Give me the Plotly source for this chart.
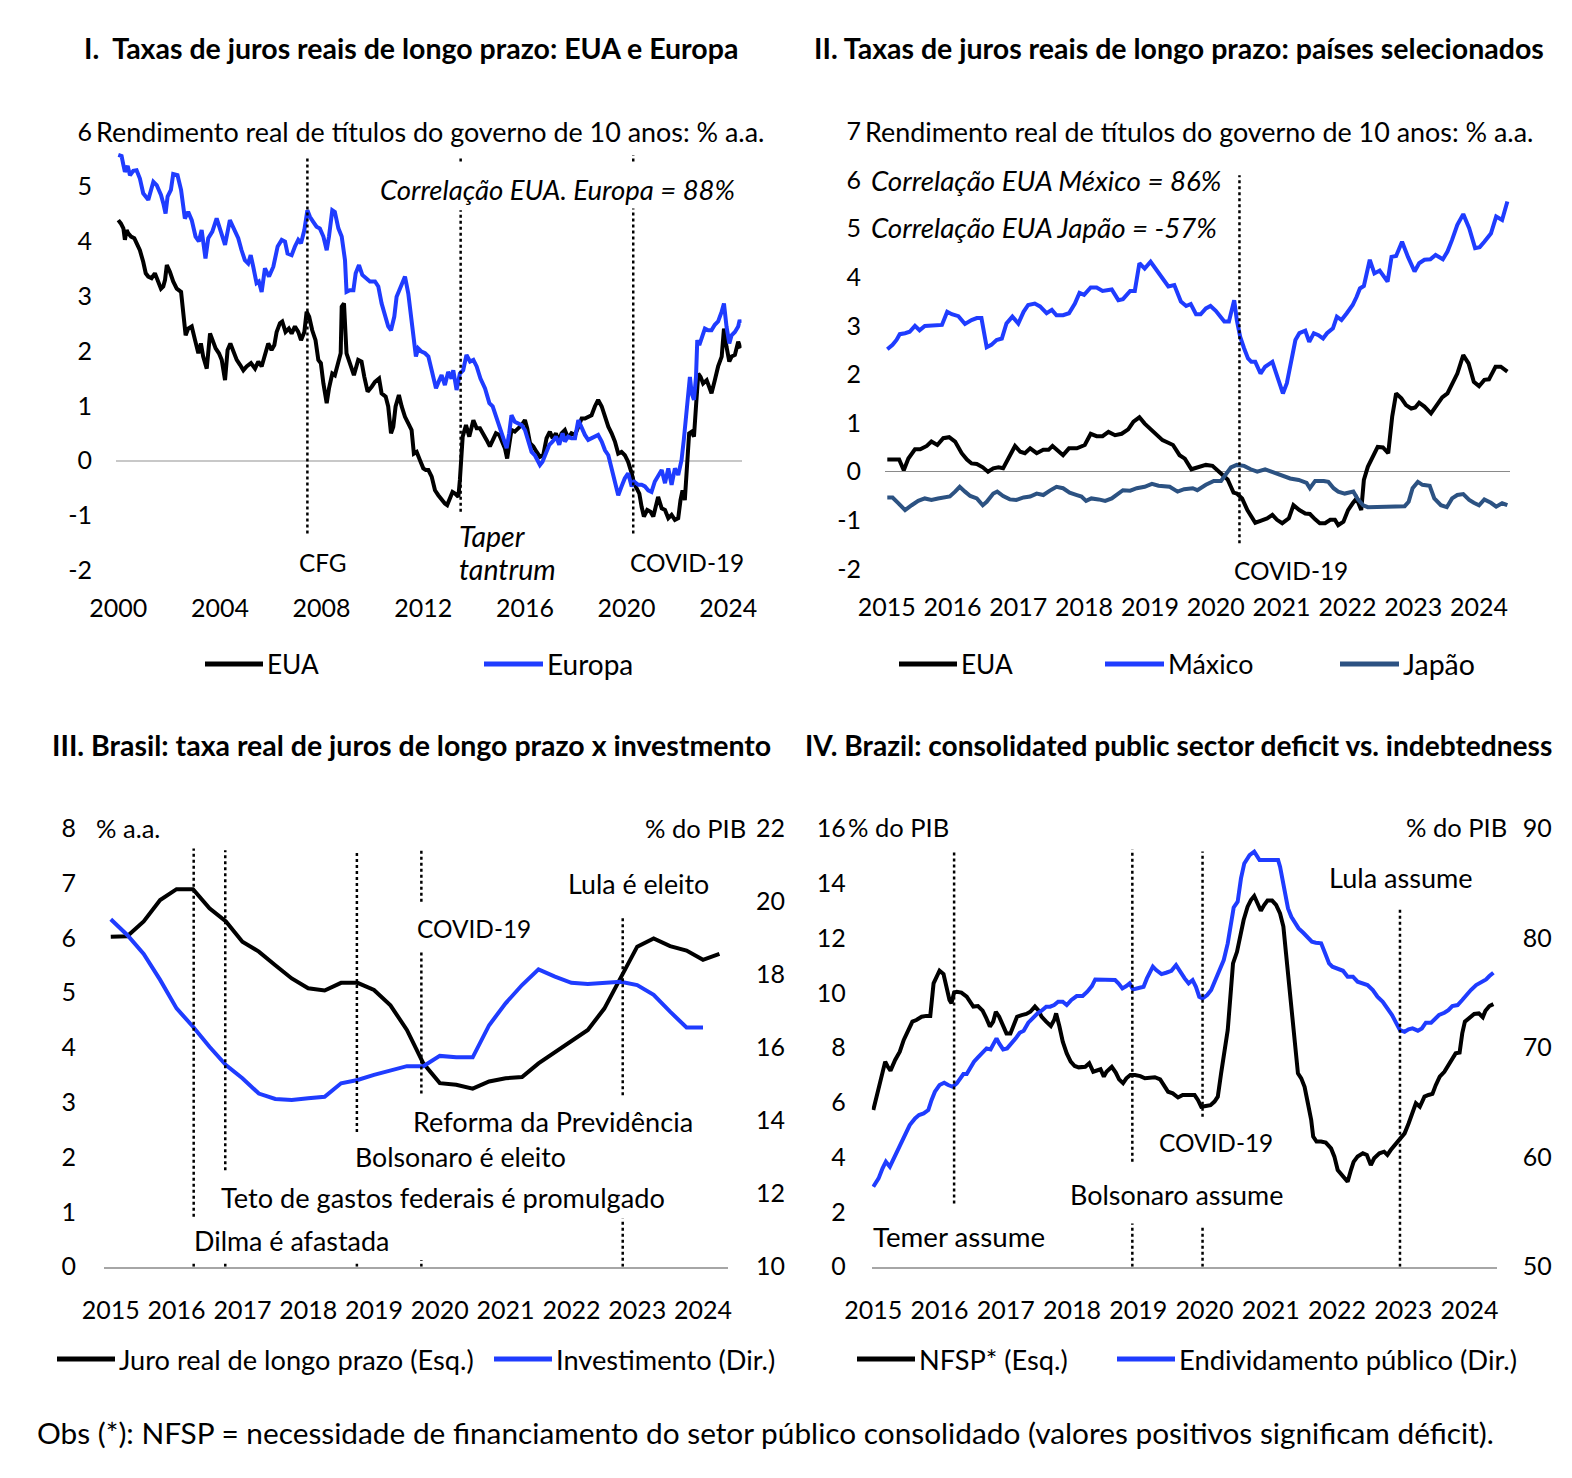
import plotly.graph_objects as go

W, H = 1572, 1478
OFF = 8  # page body margin in the browser
FONT = "Lato"
BLACK = "#000000"
BLUE = "#1f3cff"
JAPAN = "#2c5282"

def px(x):
    return (x - OFF) / W

def py(y):
    return 1 - (y - OFF) / H

# ---------------- Panel I: EUA x Europa (2000-2024) ----------------
eua1_x = [2000.00, 2000.10, 2000.20, 2000.26, 2000.33, 2000.39, 2000.50, 2000.63, 2000.72, 2000.85,
          2000.98, 2001.08, 2001.18, 2001.31, 2001.44, 2001.55, 2001.68, 2001.77, 2001.84, 2001.91,
          2002.03, 2002.16, 2002.30, 2002.47, 2002.56, 2002.65, 2002.75, 2002.89, 2003.02, 2003.15,
          2003.25, 2003.34, 2003.48, 2003.61, 2003.71, 2003.83, 2003.96, 2004.07, 2004.20, 2004.30,
          2004.41, 2004.54, 2004.66, 2004.79, 2004.92, 2005.05, 2005.22, 2005.38, 2005.51, 2005.64,
          2005.77, 2005.90, 2006.03, 2006.14, 2006.23, 2006.36, 2006.45, 2006.58, 2006.71, 2006.82,
          2006.95, 2007.08, 2007.19, 2007.32, 2007.41, 2007.51, 2007.63, 2007.76, 2007.87, 2007.97,
          2008.07, 2008.20, 2008.29, 2008.42, 2008.52, 2008.66, 2008.75, 2008.79, 2008.88, 2008.98,
          2009.11, 2009.27, 2009.44, 2009.57, 2009.68, 2009.81, 2009.97, 2010.10, 2010.26, 2010.36,
          2010.52, 2010.62, 2010.73, 2010.82, 2010.91, 2011.04, 2011.15, 2011.28, 2011.41, 2011.54,
          2011.63, 2011.74, 2011.87, 2012.00, 2012.10, 2012.20, 2012.33, 2012.46, 2012.59, 2012.72,
          2012.85, 2012.94, 2013.05, 2013.15, 2013.25, 2013.38, 2013.44, 2013.55, 2013.68, 2013.81,
          2013.97, 2014.10, 2014.23, 2014.36, 2014.49, 2014.62, 2014.73, 2014.86, 2014.99, 2015.12,
          2015.21, 2015.30, 2015.38, 2015.47, 2015.60, 2015.74, 2015.87, 2016.00, 2016.09, 2016.20,
          2016.33, 2016.46, 2016.59, 2016.72, 2016.85, 2016.98, 2017.09, 2017.22, 2017.32, 2017.44,
          2017.57, 2017.70, 2017.83, 2017.97, 2018.10, 2018.23, 2018.36, 2018.49, 2018.62, 2018.75,
          2018.88, 2019.02, 2019.15, 2019.28, 2019.41, 2019.54, 2019.67, 2019.80, 2019.93, 2020.06,
          2020.20, 2020.29, 2020.39, 2020.50, 2020.59, 2020.68, 2020.81, 2020.94, 2021.05, 2021.15,
          2021.24, 2021.38, 2021.51, 2021.64, 2021.77, 2021.90, 2022.03, 2022.12, 2022.20, 2022.29,
          2022.38, 2022.46, 2022.56, 2022.65, 2022.73, 2022.82, 2022.91, 2023.01, 2023.15, 2023.25,
          2023.34, 2023.47, 2023.60, 2023.74, 2023.83, 2023.93, 2024.04, 2024.13, 2024.26, 2024.39,
          2024.49]
eua1_y = [4.39, 4.33, 4.24, 4.03, 4.21, 4.15, 4.09, 4.06, 3.97, 3.84,
          3.63, 3.42, 3.36, 3.33, 3.42, 3.30, 3.14, 3.18, 3.30, 3.57,
          3.45, 3.27, 3.14, 3.08, 2.69, 2.29, 2.41, 2.45, 2.20, 1.96,
          2.14, 1.90, 1.68, 2.32, 2.20, 2.05, 1.96, 1.84, 1.47, 2.02,
          2.14, 1.96, 1.84, 1.75, 1.65, 1.72, 1.78, 1.68, 1.81, 1.72,
          1.93, 2.14, 2.02, 2.11, 2.35, 2.51, 2.54, 2.35, 2.41, 2.32,
          2.45, 2.35, 2.20, 2.35, 2.72, 2.63, 2.38, 2.20, 1.84, 1.78,
          1.41, 1.05, 1.32, 1.59, 1.56, 1.78, 1.96, 2.81, 2.87, 1.96,
          1.78, 1.56, 1.84, 1.81, 1.53, 1.26, 1.35, 1.44, 1.50, 1.23,
          1.17, 0.99, 0.50, 0.62, 0.99, 1.20, 0.99, 0.80, 0.68, 0.56,
          0.13, 0.16, 0.01, -0.14, -0.17, -0.17, -0.29, -0.54, -0.63, -0.72,
          -0.78, -0.81, -0.69, -0.57, -0.60, -0.66, -0.35, 0.44, 0.65, 0.44,
          0.74, 0.59, 0.59, 0.50, 0.38, 0.26, 0.38, 0.50, 0.47, 0.35,
          0.23, 0.04, 0.26, 0.56, 0.53, 0.59, 0.65, 0.74, 0.59, 0.32,
          0.26, 0.16, 0.07, 0.10, 0.41, 0.53, 0.41, 0.50, 0.35, 0.50,
          0.56, 0.41, 0.50, 0.47, 0.62, 0.77, 0.77, 0.80, 0.83, 0.99,
          1.11, 0.99, 0.80, 0.62, 0.50, 0.35, 0.13, 0.16, 0.10, -0.02,
          -0.23, -0.41, -0.50, -0.60, -0.84, -1.02, -0.90, -0.93, -1.02, -0.84,
          -0.66, -0.87, -0.90, -1.05, -0.99, -1.08, -1.05, -0.72, -0.54, -0.72,
          -0.17, 0.50, 0.53, 0.44, 0.99, 1.59, 1.53, 1.41, 1.47, 1.35,
          1.23, 1.47, 1.72, 1.90, 2.41, 2.08, 1.81, 1.90, 1.93, 2.17,
          2.05]

europa1_x = [2000.00, 2000.13, 2000.20, 2000.26, 2000.37, 2000.46, 2000.59, 2000.72, 2000.85, 2000.98,
             2001.18, 2001.38, 2001.51, 2001.68, 2001.77, 2001.86, 2001.94, 2002.07, 2002.16, 2002.33,
             2002.47, 2002.62, 2002.75, 2002.89, 2003.04, 2003.17, 2003.28, 2003.43, 2003.54, 2003.70,
             2003.87, 2004.00, 2004.20, 2004.39, 2004.59, 2004.72, 2004.85, 2004.98, 2005.11, 2005.21,
             2005.31, 2005.44, 2005.53, 2005.64, 2005.77, 2005.93, 2006.10, 2006.27, 2006.43, 2006.56,
             2006.66, 2006.82, 2006.95, 2007.08, 2007.19, 2007.32, 2007.44, 2007.54, 2007.67, 2007.80,
             2007.93, 2008.07, 2008.20, 2008.29, 2008.42, 2008.52, 2008.66, 2008.79, 2008.92, 2008.98,
             2009.11, 2009.25, 2009.34, 2009.47, 2009.60, 2009.77, 2009.90, 2010.10, 2010.23, 2010.36,
             2010.49, 2010.62, 2010.73, 2010.86, 2010.95, 2011.12, 2011.28, 2011.41, 2011.52, 2011.61,
             2011.71, 2011.80, 2011.93, 2012.07, 2012.20, 2012.33, 2012.50, 2012.63, 2012.72, 2012.85,
             2012.98, 2013.11, 2013.18, 2013.31, 2013.44, 2013.57, 2013.70, 2013.84, 2013.97, 2014.10,
             2014.25, 2014.43, 2014.60, 2014.73, 2014.86, 2014.99, 2015.12, 2015.28, 2015.38, 2015.47,
             2015.60, 2015.74, 2015.87, 2016.00, 2016.13, 2016.26, 2016.39, 2016.48, 2016.59, 2016.69,
             2016.82, 2016.96, 2017.09, 2017.22, 2017.35, 2017.48, 2017.57, 2017.70, 2017.83, 2017.97,
             2018.10, 2018.23, 2018.36, 2018.49, 2018.62, 2018.75, 2018.88, 2019.02, 2019.15, 2019.28,
             2019.41, 2019.54, 2019.67, 2019.80, 2019.93, 2020.06, 2020.20, 2020.29, 2020.46, 2020.59,
             2020.72, 2020.85, 2020.98, 2021.11, 2021.24, 2021.38, 2021.51, 2021.64, 2021.77, 2021.90,
             2022.03, 2022.16, 2022.25, 2022.33, 2022.42, 2022.49, 2022.56, 2022.65, 2022.73, 2022.78,
             2022.86, 2022.95, 2023.08, 2023.21, 2023.34, 2023.47, 2023.60, 2023.74, 2023.83, 2023.93,
             2024.04, 2024.13, 2024.26, 2024.39, 2024.45, 2024.49]
europa1_y = [5.58, 5.56, 5.40, 5.27, 5.38, 5.21, 5.29, 5.30, 5.15, 4.88,
             4.76, 5.09, 5.03, 4.85, 4.70, 4.51, 4.82, 4.94, 5.23, 5.21,
             4.94, 4.42, 4.54, 4.39, 4.09, 4.00, 4.21, 3.69, 4.06, 4.18,
             4.42, 4.24, 3.94, 4.39, 4.21, 4.06, 3.84, 3.66, 3.60, 3.75,
             3.54, 3.24, 3.27, 3.08, 3.51, 3.36, 3.54, 3.91, 4.03, 4.00,
             3.78, 3.75, 3.91, 4.03, 3.97, 4.21, 4.57, 4.45, 4.36, 4.27,
             4.24, 4.09, 3.84, 4.09, 4.57, 4.54, 4.24, 4.09, 3.66, 3.08,
             3.11, 3.11, 3.42, 3.57, 3.39, 3.33, 3.27, 3.27, 3.18, 2.87,
             2.63, 2.45, 2.38, 2.63, 2.99, 3.18, 3.36, 3.05, 2.65, 2.20,
             1.90, 2.05, 1.99, 1.96, 1.90, 1.65, 1.32, 1.47, 1.56, 1.38,
             1.62, 1.50, 1.65, 1.29, 1.59, 1.65, 1.93, 1.81, 1.84, 1.72,
             1.50, 1.32, 1.05, 0.99, 0.80, 0.62, 0.41, 0.23, 0.50, 0.83,
             0.71, 0.68, 0.65, 0.56, 0.35, 0.16, 0.10, 0.01, -0.08, -0.02,
             0.13, 0.29, 0.35, 0.44, 0.29, 0.50, 0.35, 0.44, 0.41, 0.41,
             0.74, 0.59, 0.47, 0.38, 0.41, 0.44, 0.47, 0.35, 0.19, 0.10,
             -0.14, -0.41, -0.63, -0.47, -0.32, -0.23, -0.47, -0.38, -0.44, -0.44,
             -0.47, -0.54, -0.57, -0.38, -0.29, -0.17, -0.41, -0.14, -0.44, -0.14,
             -0.26, 0.01, 0.38, 0.80, 1.11, 1.53, 1.23, 1.11, 1.53, 2.20,
             2.11, 2.23, 2.41, 2.38, 2.38, 2.48, 2.54, 2.72, 2.87, 2.45,
             2.14, 2.29, 2.35, 2.45, 2.57, 2.51]

# ---------------- Panel II: EUA, México, Japão (2015-2024) ----------------
eua2_x = [2015.01, 2015.10, 2015.19, 2015.26, 2015.33, 2015.43, 2015.51, 2015.61, 2015.68, 2015.77,
          2015.86, 2015.95, 2016.04, 2016.14, 2016.22, 2016.29, 2016.37, 2016.46, 2016.54, 2016.62,
          2016.70, 2016.77, 2016.85, 2016.95, 2017.03, 2017.10, 2017.18, 2017.28, 2017.38, 2017.46,
          2017.52, 2017.61, 2017.68, 2017.77, 2017.89, 2018.01, 2018.10, 2018.19, 2018.28, 2018.37,
          2018.47, 2018.57, 2018.67, 2018.75, 2018.84, 2018.92, 2019.01, 2019.10, 2019.19, 2019.27,
          2019.35, 2019.45, 2019.53, 2019.63, 2019.72, 2019.85, 2019.95, 2020.03, 2020.10, 2020.18,
          2020.23, 2020.27, 2020.32, 2020.40, 2020.48, 2020.54, 2020.60, 2020.68, 2020.78, 2020.86,
          2020.93, 2021.01, 2021.11, 2021.18, 2021.27, 2021.36, 2021.43, 2021.51, 2021.58, 2021.66,
          2021.74, 2021.81, 2021.86, 2021.94, 2022.01, 2022.08, 2022.14, 2022.21, 2022.25, 2022.31,
          2022.39, 2022.46, 2022.54, 2022.62, 2022.68, 2022.74, 2022.82, 2022.89, 2022.97, 2023.03,
          2023.09, 2023.17, 2023.27, 2023.35, 2023.44, 2023.52, 2023.60, 2023.67, 2023.76, 2023.84,
          2023.92, 2024.00, 2024.08, 2024.15, 2024.25, 2024.33, 2024.43]
eua2_y = [0.25, 0.25, 0.25, 0.03, 0.27, 0.46, 0.46, 0.53, 0.62, 0.55,
          0.69, 0.71, 0.62, 0.38, 0.25, 0.17, 0.16, 0.09, 0.00, 0.07,
          0.09, 0.07, 0.29, 0.53, 0.41, 0.38, 0.48, 0.38, 0.45, 0.45,
          0.53, 0.41, 0.34, 0.48, 0.48, 0.55, 0.78, 0.73, 0.73, 0.82,
          0.75, 0.78, 0.87, 1.03, 1.12, 0.99, 0.87, 0.75, 0.65, 0.60,
          0.55, 0.34, 0.27, 0.05, 0.09, 0.14, 0.12, 0.03, -0.07, -0.16,
          -0.31, -0.43, -0.45, -0.55, -0.79, -0.93, -1.05, -1.01, -0.96, -0.89,
          -0.99, -1.06, -0.96, -0.69, -0.79, -0.86, -0.87, -0.98, -1.06, -1.06,
          -0.99, -0.99, -1.10, -1.03, -0.79, -0.65, -0.55, -0.79, -0.17, 0.10,
          0.34, 0.51, 0.50, 0.38, 1.13, 1.61, 1.51, 1.37, 1.30, 1.32,
          1.42, 1.34, 1.20, 1.37, 1.53, 1.61, 1.82, 2.02, 2.40, 2.23,
          1.85, 1.76, 1.89, 1.90, 2.16, 2.16, 2.06]

mexico2_x = [2015.01, 2015.09, 2015.15, 2015.20, 2015.28, 2015.35, 2015.43, 2015.50, 2015.58, 2015.68,
             2015.76, 2015.84, 2015.92, 2015.99, 2016.09, 2016.19, 2016.29, 2016.37, 2016.44, 2016.52,
             2016.59, 2016.67, 2016.75, 2016.82, 2016.91, 2017.00, 2017.08, 2017.15, 2017.25, 2017.33,
             2017.43, 2017.51, 2017.58, 2017.68, 2017.77, 2017.86, 2017.93, 2018.00, 2018.10, 2018.19,
             2018.28, 2018.42, 2018.52, 2018.59, 2018.70, 2018.77, 2018.84, 2018.92, 2019.01, 2019.10,
             2019.19, 2019.28, 2019.37, 2019.42, 2019.47, 2019.55, 2019.62, 2019.70, 2019.77, 2019.85,
             2019.92, 2020.00, 2020.08, 2020.13, 2020.20, 2020.28, 2020.32, 2020.37, 2020.43, 2020.49,
             2020.54, 2020.60, 2020.68, 2020.75, 2020.86, 2020.93, 2021.02, 2021.08, 2021.16, 2021.21,
             2021.27, 2021.36, 2021.42, 2021.49, 2021.56, 2021.63, 2021.69, 2021.78, 2021.84, 2021.91,
             2021.99, 2022.08, 2022.14, 2022.19, 2022.25, 2022.34, 2022.41, 2022.49, 2022.61, 2022.67,
             2022.74, 2022.83, 2022.92, 2023.02, 2023.09, 2023.17, 2023.26, 2023.34, 2023.45, 2023.52,
             2023.59, 2023.67, 2023.76, 2023.85, 2023.94, 2024.01, 2024.08, 2024.18, 2024.26, 2024.35,
             2024.43]
mexico2_y = [2.52, 2.61, 2.71, 2.83, 2.85, 2.88, 3.00, 2.91, 3.00, 3.00,
             3.00, 3.02, 3.29, 3.24, 3.20, 3.04, 3.12, 3.16, 3.16, 2.56,
             2.61, 2.71, 2.74, 3.05, 3.19, 3.05, 3.29, 3.43, 3.46, 3.40,
             3.26, 3.33, 3.22, 3.22, 3.26, 3.46, 3.68, 3.64, 3.79, 3.79,
             3.72, 3.75, 3.53, 3.55, 3.72, 3.72, 4.29, 4.18, 4.32, 4.15,
             4.01, 3.81, 3.84, 3.64, 3.50, 3.41, 3.45, 3.24, 3.24, 3.36,
             3.41, 3.31, 3.19, 3.09, 3.09, 3.53, 3.12, 2.78, 2.54, 2.33,
             2.26, 2.26, 2.02, 2.16, 2.26, 1.95, 1.61, 1.82, 2.43, 2.71,
             2.85, 2.90, 2.67, 2.85, 2.81, 2.74, 2.85, 2.95, 3.19, 3.12,
             3.26, 3.43, 3.60, 3.77, 3.82, 4.36, 4.08, 4.14, 3.91, 4.42,
             4.44, 4.73, 4.42, 4.12, 4.29, 4.36, 4.37, 4.46, 4.37, 4.53,
             4.77, 5.08, 5.30, 5.01, 4.60, 4.62, 4.73, 4.90, 5.25, 5.18,
             5.56]

japao2_x = [2015.01, 2015.09, 2015.18, 2015.28, 2015.38, 2015.48, 2015.58, 2015.68, 2015.78, 2015.89,
            2015.96, 2016.04, 2016.11, 2016.19, 2016.27, 2016.37, 2016.46, 2016.52, 2016.62, 2016.68,
            2016.77, 2016.87, 2016.97, 2017.08, 2017.18, 2017.28, 2017.38, 2017.48, 2017.58, 2017.68,
            2017.78, 2017.89, 2017.96, 2018.03, 2018.11, 2018.22, 2018.32, 2018.42, 2018.50, 2018.59,
            2018.70, 2018.80, 2018.92, 2019.03, 2019.13, 2019.30, 2019.42, 2019.52, 2019.65, 2019.72,
            2019.85, 2019.97, 2020.08, 2020.15, 2020.23, 2020.32, 2020.43, 2020.53, 2020.63, 2020.75,
            2020.88, 2021.01, 2021.13, 2021.26, 2021.38, 2021.43, 2021.51, 2021.64, 2021.71, 2021.79,
            2021.86, 2021.96, 2022.09, 2022.16, 2022.24, 2022.31, 2022.42, 2022.51, 2022.64, 2022.77,
            2022.87, 2022.93, 2022.99, 2023.07, 2023.14, 2023.25, 2023.32, 2023.42, 2023.51, 2023.59,
            2023.67, 2023.76, 2023.85, 2023.92, 2024.00, 2024.08, 2024.18, 2024.26, 2024.35, 2024.43]
japao2_y = [-0.53, -0.53, -0.65, -0.79, -0.69, -0.60, -0.55, -0.58, -0.55, -0.53,
            -0.51, -0.41, -0.31, -0.41, -0.50, -0.55, -0.69, -0.62, -0.45, -0.41,
            -0.50, -0.57, -0.58, -0.53, -0.51, -0.45, -0.48, -0.39, -0.31, -0.34,
            -0.43, -0.48, -0.51, -0.60, -0.55, -0.57, -0.60, -0.55, -0.48, -0.38,
            -0.39, -0.34, -0.31, -0.25, -0.29, -0.31, -0.41, -0.36, -0.34, -0.38,
            -0.27, -0.19, -0.19, -0.07, 0.09, 0.14, 0.12, 0.05, 0.00, 0.05,
            -0.02, -0.09, -0.14, -0.17, -0.23, -0.34, -0.19, -0.19, -0.21, -0.34,
            -0.41, -0.45, -0.41, -0.57, -0.69, -0.73, -0.73, -0.71, -0.73, -0.73,
            -0.71, -0.62, -0.34, -0.21, -0.27, -0.29, -0.55, -0.69, -0.73, -0.55,
            -0.48, -0.46, -0.58, -0.64, -0.69, -0.57, -0.64, -0.72, -0.65, -0.69]

# ---------------- Panel III: Brasil juro real x investimento (quarterly) ----------------
juro3 = [6.02, 6.03, 6.30, 6.69, 6.89, 6.89, 6.54, 6.30, 5.93, 5.75,
         5.50, 5.26, 5.08, 5.04, 5.18, 5.18, 5.05, 4.77, 4.32, 3.71,
         3.35, 3.32, 3.25, 3.38, 3.44, 3.46, 3.71, 3.92, 4.11, 4.32,
         4.71, 5.26, 5.84, 5.99, 5.85, 5.77, 5.60, 5.71]
invest3 = [19.51, 19.08, 18.56, 17.85, 17.07, 16.57, 16.02, 15.52, 15.16, 14.74,
           14.59, 14.56, 14.61, 14.65, 15.02, 15.11, 15.25, 15.38, 15.49, 15.49,
           15.77, 15.73, 15.73, 16.61, 17.21, 17.71, 18.14, 17.94, 17.77, 17.74,
           17.77, 17.80, 17.71, 17.44, 16.98, 16.55, 16.55]
juro3_x = [2015 + 0.25 * i for i in range(len(juro3))]
invest3_x = [2015 + 0.25 * i for i in range(len(invest3))]

# ---------------- Panel IV: NFSP x endividamento ----------------
nfsp4_x = [2015.00, 2015.08, 2015.13, 2015.18, 2015.22, 2015.26, 2015.33, 2015.40, 2015.46, 2015.53,
           2015.59, 2015.65, 2015.73, 2015.80, 2015.86, 2015.91, 2015.96, 2016.00, 2016.06, 2016.11,
           2016.15, 2016.18, 2016.22, 2016.26, 2016.33, 2016.41, 2016.46, 2016.51, 2016.58, 2016.65,
           2016.70, 2016.76, 2016.81, 2016.85, 2016.90, 2016.96, 2017.01, 2017.07, 2017.12, 2017.17,
           2017.24, 2017.31, 2017.37, 2017.44, 2017.49, 2017.54, 2017.61, 2017.68, 2017.73, 2017.76,
           2017.81, 2017.86, 2017.92, 2017.98, 2018.04, 2018.10, 2018.20, 2018.26, 2018.32, 2018.39,
           2018.43, 2018.48, 2018.52, 2018.60, 2018.66, 2018.71, 2018.77, 2018.82, 2018.88, 2018.95,
           2019.03, 2019.10, 2019.18, 2019.25, 2019.33, 2019.40, 2019.45, 2019.52, 2019.60, 2019.67,
           2019.77, 2019.85, 2019.90, 2019.95, 2020.02, 2020.09, 2020.15, 2020.20, 2020.25, 2020.30,
           2020.35, 2020.39, 2020.43, 2020.49, 2020.54, 2020.59, 2020.65, 2020.70, 2020.75, 2020.80,
           2020.85, 2020.90, 2020.95, 2021.02, 2021.08, 2021.14, 2021.19, 2021.23, 2021.28, 2021.33,
           2021.37, 2021.41, 2021.46, 2021.51, 2021.56, 2021.61, 2021.64, 2021.69, 2021.76, 2021.83,
           2021.91, 2021.96, 2022.01, 2022.08, 2022.16, 2022.21, 2022.25, 2022.31, 2022.39, 2022.45,
           2022.51, 2022.56, 2022.64, 2022.71, 2022.76, 2022.81, 2022.89, 2022.95, 2023.02, 2023.08,
           2023.14, 2023.19, 2023.25, 2023.32, 2023.38, 2023.44, 2023.49, 2023.55, 2023.62, 2023.68,
           2023.74, 2023.79, 2023.85, 2023.89, 2023.93, 2023.99, 2024.07, 2024.14, 2024.20, 2024.24,
           2024.30, 2024.36]
nfsp4_y = [5.72, 6.45, 7.00, 7.49, 7.30, 7.16, 7.55, 7.85, 8.28, 8.64,
           8.95, 9.01, 9.13, 9.16, 9.16, 10.35, 10.59, 10.81, 10.69, 10.23,
           9.74, 9.62, 10.01, 10.04, 10.01, 9.86, 9.68, 9.50, 9.52, 9.35,
           9.11, 8.77, 8.95, 9.31, 9.13, 8.83, 8.52, 8.52, 8.83, 9.13,
           9.19, 9.23, 9.31, 9.50, 9.37, 9.13, 8.95, 8.79, 9.01, 9.25,
           8.77, 8.22, 7.79, 7.49, 7.33, 7.28, 7.30, 7.43, 7.12, 7.18,
           7.21, 6.94, 7.12, 7.30, 7.09, 6.84, 6.70, 6.88, 7.00, 7.00,
           6.96, 6.88, 6.92, 6.92, 6.84, 6.57, 6.39, 6.33, 6.18, 6.27,
           6.27, 6.27, 6.09, 5.84, 5.87, 5.90, 6.03, 6.21, 7.06, 7.79,
           8.64, 9.86, 11.08, 11.50, 12.11, 12.66, 13.15, 13.39, 13.54, 13.27,
           13.00, 13.21, 13.37, 13.37, 13.21, 12.90, 12.42, 11.44, 10.23, 9.25,
           8.28, 7.06, 6.88, 6.57, 5.97, 5.36, 4.75, 4.57, 4.57, 4.53,
           4.32, 4.02, 3.53, 3.35, 3.10, 3.53, 3.83, 4.02, 4.14, 4.08,
           3.71, 3.96, 4.14, 4.20, 4.08, 4.26, 4.50, 4.65, 4.87, 5.23,
           5.60, 5.97, 5.84, 6.21, 6.27, 6.31, 6.63, 6.94, 7.12, 7.37,
           7.57, 7.79, 7.82, 8.52, 8.95, 9.07, 9.23, 9.25, 9.11, 9.35,
           9.52, 9.59]

divida4_x = [2015.00, 2015.08, 2015.14, 2015.19, 2015.25, 2015.31, 2015.38, 2015.43, 2015.49, 2015.55,
             2015.63, 2015.69, 2015.76, 2015.83, 2015.88, 2015.93, 2016.00, 2016.07, 2016.13, 2016.20,
             2016.26, 2016.31, 2016.36, 2016.41, 2016.46, 2016.52, 2016.58, 2016.66, 2016.71, 2016.77,
             2016.82, 2016.86, 2016.90, 2016.96, 2017.02, 2017.09, 2017.15, 2017.21, 2017.27, 2017.34,
             2017.40, 2017.48, 2017.54, 2017.61, 2017.67, 2017.73, 2017.79, 2017.86, 2017.92, 2017.99,
             2018.07, 2018.16, 2018.23, 2018.30, 2018.35, 2018.42, 2018.50, 2018.57, 2018.65, 2018.70,
             2018.76, 2018.82, 2018.87, 2018.92, 2018.99, 2019.08, 2019.13, 2019.18, 2019.22, 2019.27,
             2019.35, 2019.42, 2019.50, 2019.57, 2019.63, 2019.70, 2019.76, 2019.82, 2019.87, 2019.92,
             2019.97, 2020.04, 2020.10, 2020.15, 2020.23, 2020.29, 2020.35, 2020.40, 2020.44, 2020.50,
             2020.55, 2020.60, 2020.68, 2020.75, 2020.83, 2020.90, 2020.98, 2021.11, 2021.14, 2021.19,
             2021.26, 2021.31, 2021.36, 2021.42, 2021.49, 2021.55, 2021.62, 2021.68, 2021.76, 2021.82,
             2021.88, 2021.93, 2022.01, 2022.09, 2022.16, 2022.24, 2022.31, 2022.39, 2022.46, 2022.54,
             2022.61, 2022.69, 2022.76, 2022.83, 2022.89, 2022.95, 2023.02, 2023.08, 2023.14, 2023.22,
             2023.28, 2023.34, 2023.42, 2023.48, 2023.54, 2023.62, 2023.68, 2023.74, 2023.82, 2023.89,
             2023.95, 2024.02, 2024.10, 2024.17, 2024.25, 2024.30, 2024.36]
divida4_y = [57.30, 58.06, 58.98, 59.59, 59.13, 59.89, 60.80, 61.41, 62.33, 62.93,
             63.54, 63.85, 64.00, 64.30, 65.22, 65.98, 66.59, 66.80, 66.59, 66.43,
             66.74, 67.19, 67.59, 67.59, 68.11, 68.72, 69.11, 69.63, 69.93, 69.84,
             70.45, 70.85, 70.39, 69.84, 69.93, 70.39, 70.85, 71.36, 71.55, 72.28,
             72.67, 73.13, 73.37, 73.74, 73.74, 73.89, 74.19, 74.19, 73.89, 74.35,
             74.71, 74.71, 75.11, 75.62, 76.23, 76.23, 76.17, 76.17, 76.17, 75.87,
             75.41, 75.62, 75.87, 75.32, 75.41, 75.56, 76.32, 76.93, 77.39, 77.08,
             76.72, 76.84, 77.02, 77.54, 76.93, 76.32, 75.87, 76.17, 75.56, 74.65,
             74.50, 74.80, 75.26, 76.02, 77.08, 78.00, 79.52, 81.65, 82.80, 83.32,
             85.45, 86.82, 87.58, 87.89, 87.13, 87.13, 87.13, 87.13, 86.52, 85.00,
             82.71, 81.95, 81.50, 80.89, 80.49, 80.13, 79.67, 79.58, 79.52, 78.61,
             77.69, 77.39, 77.24, 77.02, 76.48, 76.48, 76.02, 75.87, 75.72, 75.26,
             74.65, 74.19, 73.58, 72.98, 72.28, 71.61, 71.45, 71.67, 71.76, 71.55,
             71.76, 72.28, 72.28, 72.67, 72.98, 73.19, 73.43, 73.80, 73.89, 74.35,
             74.80, 75.26, 75.72, 75.93, 76.23, 76.54, 76.84]

# tick labels
ticks1_x = [2000, 2004, 2008, 2012, 2016, 2020, 2024]
ticks_yr = list(range(2015, 2025))
ticks1_y = [-2, -1, 0, 1, 2, 3, 4, 5, 6]
ticks2_y = [-2, -1, 0, 1, 2, 3, 4, 5, 6, 7]
ticks3_l = [0, 1, 2, 3, 4, 5, 6, 7, 8]
ticks3_r = [10, 12, 14, 16, 18, 20, 22]
ticks4_l = [0, 2, 4, 6, 8, 10, 12, 14, 16]
ticks4_r = [50, 60, 70, 80, 90]

# event markers (x position, visible y-segments)
events1 = [(2007.44, [(-1.33, 5.52)]),
           (2013.47, [(5.46, 5.55), (-0.93, 4.57)]),
           (2020.26, [(5.46, 5.58), (-1.33, 4.60)])]
events2 = [(2020.36, [(-1.47, 6.10)])]
events3 = [(2016.26, [(0.91, 7.63), (0.0, 0.09)]),
           (2016.74, [(1.76, 7.60), (0.0, 0.09)]),
           (2018.74, [(2.46, 7.60), (0.0, 0.09)]),
           (2019.72, [(6.66, 7.63), (3.16, 5.78), (0.0, 0.12)]),
           (2022.78, [(3.13, 6.36), (0.0, 0.88)])]
events4 = [(2016.22, [(2.31, 15.24)]),
           (2018.91, [(3.83, 15.24), (0.0, 1.58)]),
           (2019.97, [(5.48, 15.16), (0.0, 1.52)]),
           (2022.95, [(0.0, 13.14)])]

fig = go.Figure()
LW = 4

def line(x, y, color, xa, ya, name):
    fig.add_trace(go.Scatter(x=x, y=y, mode="lines", name=name, xaxis=xa, yaxis=ya,
                             line=dict(color=color, width=LW), showlegend=False,
                             hoverinfo="skip"))

line(eua1_x, eua1_y, BLACK, "x", "y", "EUA")
line(europa1_x, europa1_y, BLUE, "x", "y", "Europa")
line(eua2_x, eua2_y, BLACK, "x2", "y2", "EUA")
line(mexico2_x, mexico2_y, BLUE, "x2", "y2", "México")
line(japao2_x, japao2_y, JAPAN, "x2", "y2", "Japão")
line(juro3_x, juro3, BLACK, "x3", "y3", "Juro real de longo prazo (Esq.)")
line(invest3_x, invest3, BLUE, "x3", "y4", "Investimento (Dir.)")
line(nfsp4_x, nfsp4_y, BLACK, "x4", "y5", "NFSP* (Esq.)")
line(divida4_x, divida4_y, BLUE, "x4", "y6", "Endividamento público (Dir.)")

TF = dict(family=FONT, size=25, color="black")

def xax(dom, rng, tv, **kw):
    d = dict(domain=dom, range=rng, tickvals=tv, ticktext=[str(v) for v in tv],
             showgrid=False, zeroline=False, showline=False, ticks="",
             tickfont=TF, ticklabelstandoff=21, fixedrange=True, automargin=False)
    d.update(kw)
    return d

def yax(dom, rng, tv, anchor, **kw):
    d = dict(domain=dom, range=rng, tickvals=tv, ticktext=[str(v) for v in tv],
             showgrid=False, zeroline=False, showline=False, ticks="",
             tickfont=TF, ticklabelstandoff=23, anchor=anchor, fixedrange=True,
             automargin=False)
    d.update(kw)
    return d

dom1x = [px(116), px(741.5)]
dom1y = [py(570.3), py(131.9)]
dom2x = [px(885), px(1510)]
dom2y = [py(568.9), py(131.5)]
dom3x = [px(104), px(728)]
dom3y = [py(1266.7), py(828.3)]
dom4x = [px(871.7), px(1496.7)]
dom4y = [py(1266.7), py(828.6)]

fig.update_layout(
    width=W, height=H, autosize=False,
    margin=dict(l=0, r=0, t=0, b=0, pad=0, autoexpand=False),
    paper_bgcolor="white", plot_bgcolor="white",
    font=dict(family=FONT, size=24, color="black"),
    xaxis=xax(dom1x, [1999.91, 2024.52], ticks1_x, anchor="y"),
    yaxis=yax(dom1y, [-2, 6], ticks1_y, "x", zeroline=True, zerolinecolor="#c8c8c8", zerolinewidth=2),
    xaxis2=xax(dom2x, [2014.975, 2024.47], ticks_yr, anchor="y2"),
    yaxis2=yax(dom2y, [-2, 7], ticks2_y, "x2", zeroline=True, zerolinecolor="#8a8a8a", zerolinewidth=1.3),
    xaxis3=xax(dom3x, [2014.897, 2024.38], ticks_yr, anchor="y3", showline=True, linecolor="#a6a6a6", linewidth=1.5),
    yaxis3=yax(dom3y, [0, 8], ticks3_l, "x3", ticklabelstandoff=27),
    yaxis4=yax(dom3y, [10, 22], ticks3_r, "x3", overlaying="y3", side="right", ticklabelstandoff=27),
    xaxis4=xax(dom4x, [2014.976, 2024.41], ticks_yr, anchor="y5", showline=True, linecolor="#a6a6a6", linewidth=1.5),
    yaxis5=yax(dom4y, [0, 16], ticks4_l, "x4", ticklabelstandoff=25),
    yaxis6=yax(dom4y, [50, 90], ticks4_r, "x4", overlaying="y5", side="right", ticklabelstandoff=25),
)

shapes = []
def add_events(events, xr, yr):
    for xv, segs in events:
        for y0, y1 in segs:
            shapes.append(dict(type="line", xref=xr, yref=yr, x0=xv, x1=xv, y0=y0, y1=y1,
                               line=dict(color="black", width=2.5, dash="dot"), layer="above"))

add_events(events1, "x", "y")
add_events(events2, "x2", "y2")
add_events(events3, "x3", "y3")
add_events(events4, "x4", "y5")

annotations = []
def txt(x, y, s, anchor="left", size=27, italic=False, bold=False):
    t = s
    if bold:
        t = "<b>" + t + "</b>"
    if italic:
        t = "<i>" + t + "</i>"
    annotations.append(dict(x=px(x), y=py(y), xref="paper", yref="paper", text=t,
                            showarrow=False, xanchor=anchor, yanchor="middle",
                            font=dict(family=FONT, size=size, color="black")))

TS = 28.5
# titles
txt(82, 48, "I.\u00a0 Taxas de juros reais de longo prazo: EUA e Europa", bold=True, size=TS)
txt(812, 48, "II. Taxas de juros reais de longo prazo: países selecionados", bold=True, size=TS)
txt(50, 745, "III. Brasil: taxa real de juros de longo prazo x investmento", bold=True, size=TS)
txt(803, 745, "IV. Brazil: consolidated public sector deficit vs. indebtedness", bold=True, size=28.1)

# panel I
txt(94, 131, "Rendimento real de títulos do governo de 10 anos: % a.a.", size=26.9)
txt(378, 189, "Correlação EUA. Europa = 88%", italic=True, size=27.5)
txt(323, 562, "CFG", anchor="center", size=24.3)
txt(457, 536, "Taper", italic=True, size=28.5)
txt(457, 569, "tantrum", italic=True, size=28.5)
txt(628, 562, "COVID-19", size=24.4)

# panel II
txt(863, 131, "Rendimento real de títulos do governo de 10 anos: % a.a.", size=26.9)
txt(869, 180, "Correlação EUA México = 86%", italic=True, size=27.7)
txt(869, 228, "Correlação EUA Japão = -57%", italic=True, size=27.7)
txt(1232, 570, "COVID-19", size=24.4)

# panel III
txt(94, 828, "% a.a.", size=25.5)
txt(643, 828, "% do PIB", size=25.5)
txt(566, 884, "Lula é eleito", size=26.8)
txt(415, 928, "COVID-19", size=24.4)
txt(411, 1121, "Reforma da Previdência", size=27.1)
txt(353, 1157, "Bolsonaro é eleito", size=26.7)
txt(219, 1197, "Teto de gastos federais é promulgado", size=27.2)
txt(192, 1240, "Dilma é afastada", size=26.9)

# panel IV
txt(846, 827, "% do PIB", size=25.5)
txt(1404, 827, "% do PIB", size=25.5)
txt(1327, 877, "Lula assume", size=27.1)
txt(1157, 1142, "COVID-19", size=24.4)
txt(1068, 1194, "Bolsonaro assume", size=26.9)
txt(871, 1236, "Temer assume", size=27.7)

# legends (manual)
def leg(x0, x1, y, color, label, size=27.2):
    shapes.append(dict(type="line", xref="paper", yref="paper", x0=px(x0), x1=px(x1),
                       y0=py(y), y1=py(y), line=dict(color=color, width=5)))
    txt(x1 + 2, y, label, size=size)

leg(205, 263, 664, BLACK, "EUA", 26.2)
leg(484, 543, 664, BLUE, "Europa", 28)
leg(899, 957, 664, BLACK, "EUA", 26.2)
leg(1105, 1164, 664, BLUE, "Máxico", 26.8)
leg(1340, 1399, 664, JAPAN, "Japão", 28.5)
leg(57, 115, 1359, BLACK, "Juro real de longo prazo (Esq.)")
leg(494, 552, 1359, BLUE, "Investimento (Dir.)")
leg(857, 915, 1359, BLACK, "NFSP* (Esq.)")
leg(1117, 1175, 1359, BLUE, "Endividamento público (Dir.)", 27.4)

txt(35, 1432, "Obs (*): NFSP = necessidade de financiamento do setor público consolidado (valores positivos significam déficit).", size=29.8)

fig.update_layout(shapes=shapes, annotations=annotations)
fig.write_html("out.html")
